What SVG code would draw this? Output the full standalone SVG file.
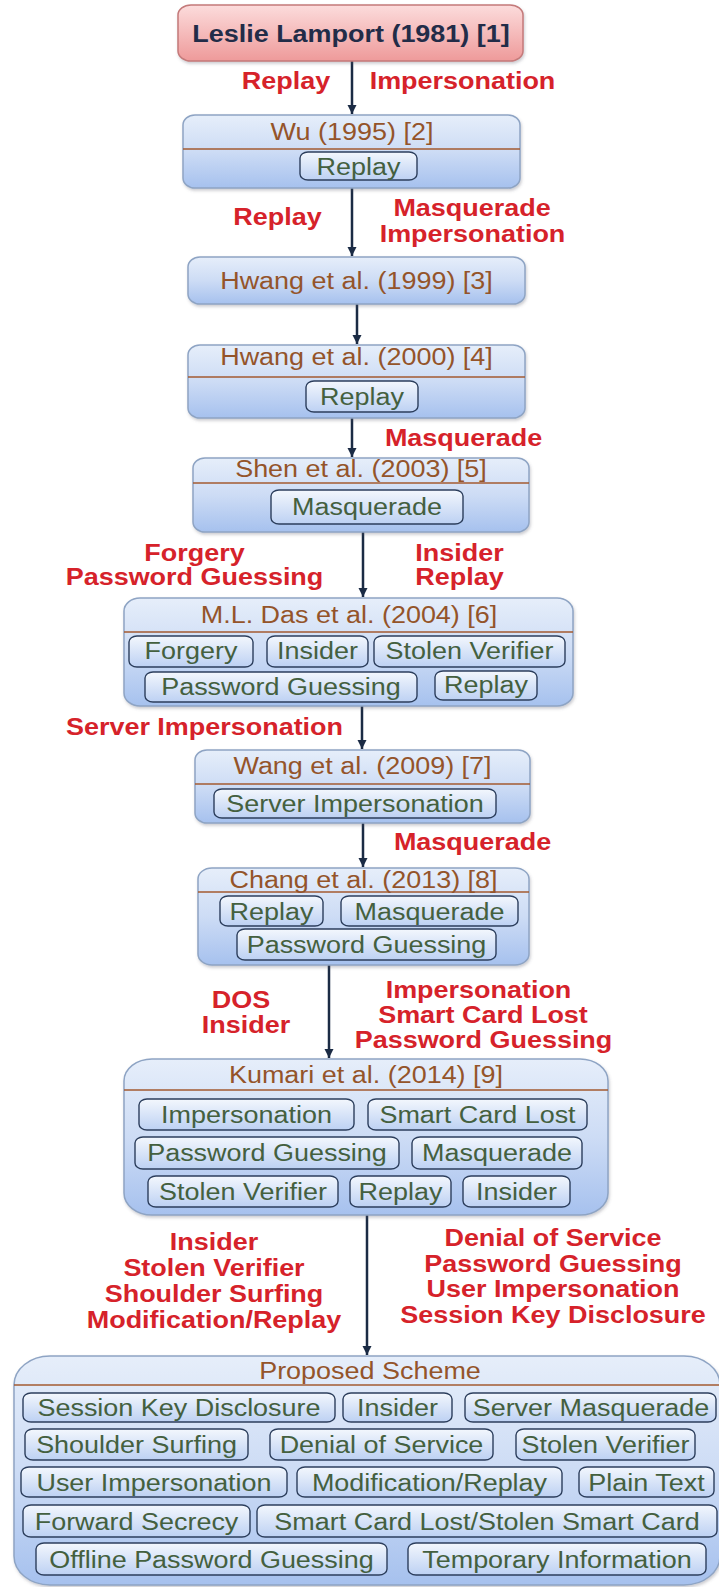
<svg xmlns="http://www.w3.org/2000/svg" width="719" height="1587" viewBox="0 0 719 1587">
<defs>
<linearGradient id="gNode" x1="0" y1="0" x2="0" y2="1">
<stop offset="0" stop-color="#e6eefa"/><stop offset="0.5" stop-color="#cddcf5"/><stop offset="1" stop-color="#a6c1ee"/>
</linearGradient>
<linearGradient id="gInner" x1="0" y1="0" x2="0" y2="1">
<stop offset="0" stop-color="#f3f7fd"/><stop offset="1" stop-color="#bdd1f3"/>
</linearGradient>
<linearGradient id="gPink" x1="0" y1="0" x2="0" y2="1">
<stop offset="0" stop-color="#fcdcdc"/><stop offset="1" stop-color="#ee9a9a"/>
</linearGradient>
<filter id="sh" x="-5%" y="-10%" width="110%" height="125%">
<feDropShadow dx="1" dy="2" stdDeviation="1.5" flood-color="#556" flood-opacity="0.3"/>
</filter>
<marker id="arr" markerUnits="userSpaceOnUse" markerWidth="10" markerHeight="10" refX="9" refY="5" orient="auto">
<path d="M0,0.5 L9,5 L0,9.5 z" fill="#1b2b44"/>
</marker>
<style>
.node{fill:url(#gNode);stroke:#8ea4c4;stroke-width:1.5;filter:url(#sh)}
.lead{fill:url(#gPink);stroke:#c47a7a;stroke-width:1.5;filter:url(#sh)}
.inner{fill:url(#gInner);stroke:#2c3e5c;stroke-width:1.4}
.div{stroke:#a35a30;stroke-width:1.5}
.t{font-family:"Liberation Sans",Arial,sans-serif;font-size:24.5px;text-anchor:middle}
.ti{fill:#94542a}
.lb{fill:#44603f}
.rd{fill:#d6222a;font-weight:bold}
.ld{fill:#222c48;font-weight:bold}
.edge{stroke:#1b2b44;stroke-width:2.5;fill:none;marker-end:url(#arr)}
</style>
</defs>

<g id="connectors">
<line class="edge" x1="352" y1="61" x2="352" y2="114"/>
<line class="edge" x1="352" y1="188" x2="352" y2="256"/>
<line class="edge" x1="357" y1="304" x2="357" y2="344"/>
<line class="edge" x1="352" y1="418" x2="352" y2="457"/>
<line class="edge" x1="363" y1="532" x2="363" y2="597"/>
<line class="edge" x1="362" y1="706" x2="362" y2="749"/>
<line class="edge" x1="363" y1="823" x2="363" y2="867"/>
<line class="edge" x1="329" y1="965" x2="329" y2="1058"/>
<line class="edge" x1="367" y1="1215" x2="367" y2="1355"/>
<g id="edge-labels">
<text class="t rd" transform="matrix(1.1 0 0 1 286 89)">Replay</text>
<text class="t rd" transform="matrix(1.1 0 0 1 462.5 89)">Impersonation</text>
<text class="t rd" transform="matrix(1.1 0 0 1 277.5 225)">Replay</text>
<text class="t rd" transform="matrix(1.1 0 0 1 472 216)">Masquerade</text>
<text class="t rd" transform="matrix(1.1 0 0 1 472.5 242)">Impersonation</text>
<text class="t rd" transform="matrix(1.1 0 0 1 463.5 446)">Masquerade</text>
<text class="t rd" transform="matrix(1.1 0 0 1 194.5 561)">Forgery</text>
<text class="t rd" transform="matrix(1.1 0 0 1 194.5 585)">Password Guessing</text>
<text class="t rd" transform="matrix(1.1 0 0 1 459.5 561)">Insider</text>
<text class="t rd" transform="matrix(1.1 0 0 1 459.5 585)">Replay</text>
<text class="t rd" transform="matrix(1.1 0 0 1 204.5 735)">Server Impersonation</text>
<text class="t rd" transform="matrix(1.1 0 0 1 472.5 850)">Masquerade</text>
<text class="t rd" transform="matrix(1.1 0 0 1 241 1008)">DOS</text>
<text class="t rd" transform="matrix(1.1 0 0 1 246 1033)">Insider</text>
<text class="t rd" transform="matrix(1.1 0 0 1 478.5 998)">Impersonation</text>
<text class="t rd" transform="matrix(1.1 0 0 1 483 1023)">Smart Card Lost</text>
<text class="t rd" transform="matrix(1.1 0 0 1 483.5 1048)">Password Guessing</text>
<text class="t rd" transform="matrix(1.1 0 0 1 214 1250)">Insider</text>
<text class="t rd" transform="matrix(1.1 0 0 1 214 1276)">Stolen Verifier</text>
<text class="t rd" transform="matrix(1.1 0 0 1 214 1302)">Shoulder Surfing</text>
<text class="t rd" transform="matrix(1.1 0 0 1 214 1328)">Modification/Replay</text>
<text class="t rd" transform="matrix(1.1 0 0 1 553 1246)">Denial of Service</text>
<text class="t rd" transform="matrix(1.1 0 0 1 553 1272)">Password Guessing</text>
<text class="t rd" transform="matrix(1.1 0 0 1 553 1297)">User Impersonation</text>
<text class="t rd" transform="matrix(1.1 0 0 1 553 1323)">Session Key Disclosure</text>
</g>
</g>

<g id="lamport">
<rect class="lead" x="178" y="5" width="345" height="56" rx="13" ry="10"/>
<text class="t ld" transform="matrix(1.1 0 0 1 351 42)">Leslie Lamport (1981) [1]</text>
</g>

<g id="wu">
<rect class="node" x="183" y="115" width="337" height="73" rx="12" ry="10"/>
<line class="div" x1="183" y1="149" x2="520" y2="149"/>
<text class="t ti" transform="matrix(1.1 0 0 1 352 140)">Wu (1995) [2]</text>
<rect class="inner" x="300" y="152" width="117" height="28" rx="8" ry="6"/>
<text class="t lb" transform="matrix(1.1 0 0 1 358.5 175)">Replay</text>
</g>

<g id="hwang1999">
<rect class="node" x="188" y="257" width="337" height="47" rx="12" ry="10"/>
<text class="t ti" transform="matrix(1.1 0 0 1 356.5 289)">Hwang et al. (1999) [3]</text>
</g>

<g id="hwang2000">
<rect class="node" x="188" y="345" width="337" height="73" rx="12" ry="10"/>
<line class="div" x1="188" y1="377" x2="525" y2="377"/>
<text class="t ti" transform="matrix(1.1 0 0 1 356.5 365)">Hwang et al. (2000) [4]</text>
<rect class="inner" x="306" y="381" width="112" height="31" rx="8" ry="6"/>
<text class="t lb" transform="matrix(1.1 0 0 1 362 405)">Replay</text>
</g>

<g id="shen">
<rect class="node" x="193" y="458" width="336" height="74" rx="12" ry="10"/>
<line class="div" x1="193" y1="483" x2="529" y2="483"/>
<text class="t ti" transform="matrix(1.1 0 0 1 361 477)">Shen et al. (2003) [5]</text>
<rect class="inner" x="271" y="490" width="192" height="34" rx="8" ry="6"/>
<text class="t lb" transform="matrix(1.1 0 0 1 367 515)">Masquerade</text>
</g>

<g id="das">
<rect class="node" x="124" y="598" width="449" height="108" rx="16" ry="13"/>
<line class="div" x1="124" y1="632" x2="573" y2="632"/>
<text class="t ti" transform="matrix(1.1 0 0 1 349 623)">M.L. Das et al. (2004) [6]</text>
<rect class="inner" x="129" y="636" width="124" height="31" rx="8" ry="6"/>
<text class="t lb" transform="matrix(1.1 0 0 1 191 659)">Forgery</text>
<rect class="inner" x="267" y="636" width="101" height="31" rx="8" ry="6"/>
<text class="t lb" transform="matrix(1.1 0 0 1 317.5 659)">Insider</text>
<rect class="inner" x="374" y="636" width="191" height="31" rx="8" ry="6"/>
<text class="t lb" transform="matrix(1.1 0 0 1 469.5 659)">Stolen Verifier</text>
<rect class="inner" x="145" y="672" width="272" height="30" rx="8" ry="6"/>
<text class="t lb" transform="matrix(1.1 0 0 1 281 695)">Password Guessing</text>
<rect class="inner" x="435" y="671" width="102" height="29" rx="8" ry="6"/>
<text class="t lb" transform="matrix(1.1 0 0 1 486 693)">Replay</text>
</g>

<g id="wang">
<rect class="node" x="195" y="750" width="335" height="73" rx="12" ry="10"/>
<line class="div" x1="195" y1="784" x2="530" y2="784"/>
<text class="t ti" transform="matrix(1.1 0 0 1 362.5 774)">Wang et al. (2009) [7]</text>
<rect class="inner" x="214" y="789" width="282" height="29" rx="8" ry="6"/>
<text class="t lb" transform="matrix(1.1 0 0 1 355 812)">Server Impersonation</text>
</g>

<g id="chang">
<rect class="node" x="198" y="868" width="331" height="97" rx="14" ry="11"/>
<line class="div" x1="198" y1="892" x2="529" y2="892"/>
<text class="t ti" transform="matrix(1.1 0 0 1 363.5 888)">Chang et al. (2013) [8]</text>
<rect class="inner" x="220" y="896" width="103" height="30" rx="8" ry="6"/>
<text class="t lb" transform="matrix(1.1 0 0 1 271.5 920)">Replay</text>
<rect class="inner" x="341" y="896" width="177" height="30" rx="8" ry="6"/>
<text class="t lb" transform="matrix(1.1 0 0 1 429.5 920)">Masquerade</text>
<rect class="inner" x="237" y="929" width="259" height="31" rx="8" ry="6"/>
<text class="t lb" transform="matrix(1.1 0 0 1 366.5 953)">Password Guessing</text>
</g>

<g id="kumari">
<rect class="node" x="124" y="1059" width="484" height="156" rx="28" ry="22"/>
<line class="div" x1="124" y1="1090" x2="608" y2="1090"/>
<text class="t ti" transform="matrix(1.1 0 0 1 366 1083)">Kumari et al. (2014) [9]</text>
<rect class="inner" x="139" y="1099" width="215" height="31" rx="8" ry="6"/>
<text class="t lb" transform="matrix(1.1 0 0 1 246.5 1123)">Impersonation</text>
<rect class="inner" x="368" y="1099" width="219" height="31" rx="8" ry="6"/>
<text class="t lb" transform="matrix(1.1 0 0 1 477.5 1123)">Smart Card Lost</text>
<rect class="inner" x="135" y="1137" width="264" height="32" rx="8" ry="6"/>
<text class="t lb" transform="matrix(1.1 0 0 1 267 1161)">Password Guessing</text>
<rect class="inner" x="412" y="1137" width="170" height="32" rx="8" ry="6"/>
<text class="t lb" transform="matrix(1.1 0 0 1 497 1161)">Masquerade</text>
<rect class="inner" x="148" y="1176" width="190" height="31" rx="8" ry="6"/>
<text class="t lb" transform="matrix(1.1 0 0 1 243 1200)">Stolen Verifier</text>
<rect class="inner" x="350" y="1176" width="101" height="31" rx="8" ry="6"/>
<text class="t lb" transform="matrix(1.1 0 0 1 400.5 1200)">Replay</text>
<rect class="inner" x="463" y="1176" width="107" height="31" rx="8" ry="6"/>
<text class="t lb" transform="matrix(1.1 0 0 1 516.5 1200)">Insider</text>
</g>

<g id="proposed">
<rect class="node" x="14" y="1356" width="706" height="229" rx="36" ry="29"/>
<line class="div" x1="14" y1="1385" x2="720" y2="1385"/>
<text class="t ti" transform="matrix(1.1 0 0 1 370 1379)">Proposed Scheme</text>
<rect class="inner" x="23" y="1393" width="312" height="29" rx="8" ry="6"/>
<text class="t lb" transform="matrix(1.1 0 0 1 179 1416)">Session Key Disclosure</text>
<rect class="inner" x="343" y="1393" width="109" height="29" rx="8" ry="6"/>
<text class="t lb" transform="matrix(1.1 0 0 1 397.5 1416)">Insider</text>
<rect class="inner" x="465" y="1393" width="251" height="29" rx="8" ry="6"/>
<text class="t lb" transform="matrix(1.1 0 0 1 591 1416)">Server Masquerade</text>
<rect class="inner" x="25" y="1429" width="223" height="31" rx="8" ry="6"/>
<text class="t lb" transform="matrix(1.1 0 0 1 136.5 1453)">Shoulder Surfing</text>
<rect class="inner" x="270" y="1429" width="223" height="31" rx="8" ry="6"/>
<text class="t lb" transform="matrix(1.1 0 0 1 381.5 1453)">Denial of Service</text>
<rect class="inner" x="516" y="1429" width="179" height="31" rx="8" ry="6"/>
<text class="t lb" transform="matrix(1.1 0 0 1 605.5 1453)">Stolen Verifier</text>
<rect class="inner" x="21" y="1467" width="266" height="30" rx="8" ry="6"/>
<text class="t lb" transform="matrix(1.1 0 0 1 154 1491)">User Impersonation</text>
<rect class="inner" x="297" y="1467" width="265" height="30" rx="8" ry="6"/>
<text class="t lb" transform="matrix(1.1 0 0 1 429.5 1491)">Modification/Replay</text>
<rect class="inner" x="579" y="1467" width="135" height="30" rx="8" ry="6"/>
<text class="t lb" transform="matrix(1.1 0 0 1 646.5 1491)">Plain Text</text>
<rect class="inner" x="23" y="1505" width="227" height="32" rx="8" ry="6"/>
<text class="t lb" transform="matrix(1.1 0 0 1 136.5 1530)">Forward Secrecy</text>
<rect class="inner" x="257" y="1505" width="460" height="32" rx="8" ry="6"/>
<text class="t lb" transform="matrix(1.1 0 0 1 487 1530)">Smart Card Lost/Stolen Smart Card</text>
<rect class="inner" x="36" y="1543" width="351" height="32" rx="8" ry="6"/>
<text class="t lb" transform="matrix(1.1 0 0 1 211.5 1568)">Offline Password Guessing</text>
<rect class="inner" x="408" y="1543" width="298" height="32" rx="8" ry="6"/>
<text class="t lb" transform="matrix(1.1 0 0 1 557 1568)">Temporary Information</text>
</g>
</svg>
